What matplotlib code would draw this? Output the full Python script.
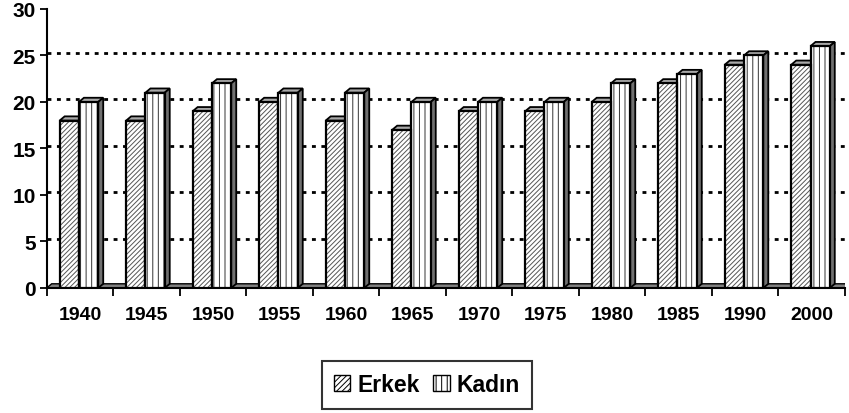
import numpy as np
import matplotlib
matplotlib.use("Agg")
import matplotlib.pyplot as plt
from matplotlib.patches import Polygon, Rectangle, Patch

plt.rcParams['font.family'] = ['Liberation Sans', 'DejaVu Sans']
plt.rcParams['hatch.linewidth'] = 0.7

# data
years = ["1940", "1945", "1950", "1955", "1960", "1965",
         "1970", "1975", "1980", "1985", "1990", "2000"]
erkek = [18, 18, 19, 20, 18, 17, 19, 19, 20, 22, 24, 24]
kadin = [20, 21, 22, 21, 21, 20, 20, 20, 22, 23, 25, 26]

fig = plt.figure(figsize=(8.49, 4.14), dpi=100)
ax = fig.add_axes([0.055, 0.302, 0.94, 0.674])

x = np.arange(len(years))
w = 0.29
dx, dy = 0.075, 0.45  # fake 3d depth

# gridlines (back wall)
for v in [5, 10, 15, 20, 25, 30]:
    ax.plot([-0.5, 11.5], [v + dy * 0.7, v + dy * 0.7], color="black",
            lw=2, ls=(0, (1.4, 2.0)), zorder=1)

# floor
floor = Polygon([[-0.5, 0], [11.5, 0], [11.5 + dx, dy], [-0.5 + dx, dy]],
                closed=True, fc="#808080", ec="black", lw=1, zorder=2)
ax.add_patch(floor)


def bar3d(x0, h, hatch, hcol):
    top = Polygon([[x0, h], [x0 + w, h], [x0 + w + dx, h + dy], [x0 + dx, h + dy]],
                  closed=True, fc="#a8a8a8", ec="black", lw=1.3, zorder=3)
    side = Polygon([[x0 + w, 0], [x0 + w + dx, dy], [x0 + w + dx, h + dy], [x0 + w, h]],
                   closed=True, fc="#707070", ec="black", lw=1.3, zorder=3)
    ax.add_patch(top)
    ax.add_patch(side)
    ax.add_patch(Rectangle((x0, 0), w, h, fc="white", ec=hcol, lw=0,
                           hatch=hatch, zorder=4))
    ax.add_patch(Rectangle((x0, 0), w, h, fc="none", ec="black", lw=1.6,
                           zorder=5))


for i in range(len(years)):
    bar3d(x[i] - 0.305, erkek[i], "///////", "#555555")
    bar3d(x[i] - 0.015, kadin[i], "|||", "#333333")

ax.set_xlim(-0.5, 11.5)
ax.set_ylim(0, 30)
ax.set_yticks(range(0, 31, 5))
ax.set_xticks(x)
ax.set_xticklabels(years)
ax.set_xticks(np.arange(-0.5, 12, 1), minor=True)
ax.tick_params(axis="x", which="major", length=0, pad=13)
ax.tick_params(axis="x", which="minor", length=6, width=1.3, direction="out")
ax.tick_params(axis="y", length=5, width=1.3, pad=3)
for lab in ax.get_xticklabels():
    lab.set_fontweight("bold")
    lab.set_fontsize(14)
for lab in ax.get_yticklabels():
    lab.set_fontweight("bold")
    lab.set_fontsize(15)

for s in ["top", "right"]:
    ax.spines[s].set_visible(False)
ax.spines["left"].set_linewidth(1.5)
ax.spines["bottom"].set_linewidth(1.5)

handles = [Patch(fc="white", ec="black", hatch="//////", label="Erkek"),
           Patch(fc="white", ec="black", hatch="|||", label="Kadın")]
leg = fig.legend(handles=handles, loc="center", bbox_to_anchor=(0.503, 0.068),
                 ncol=2, frameon=True, fancybox=False, edgecolor="black",
                 prop={"weight": "bold", "size": 16.5}, handlelength=0.7,
                 handleheight=0.7, handletextpad=0.3, columnspacing=0.6,
                 borderpad=0.55)
leg.get_frame().set_linewidth(1.5)

fig.savefig("out.png", dpi=100)
